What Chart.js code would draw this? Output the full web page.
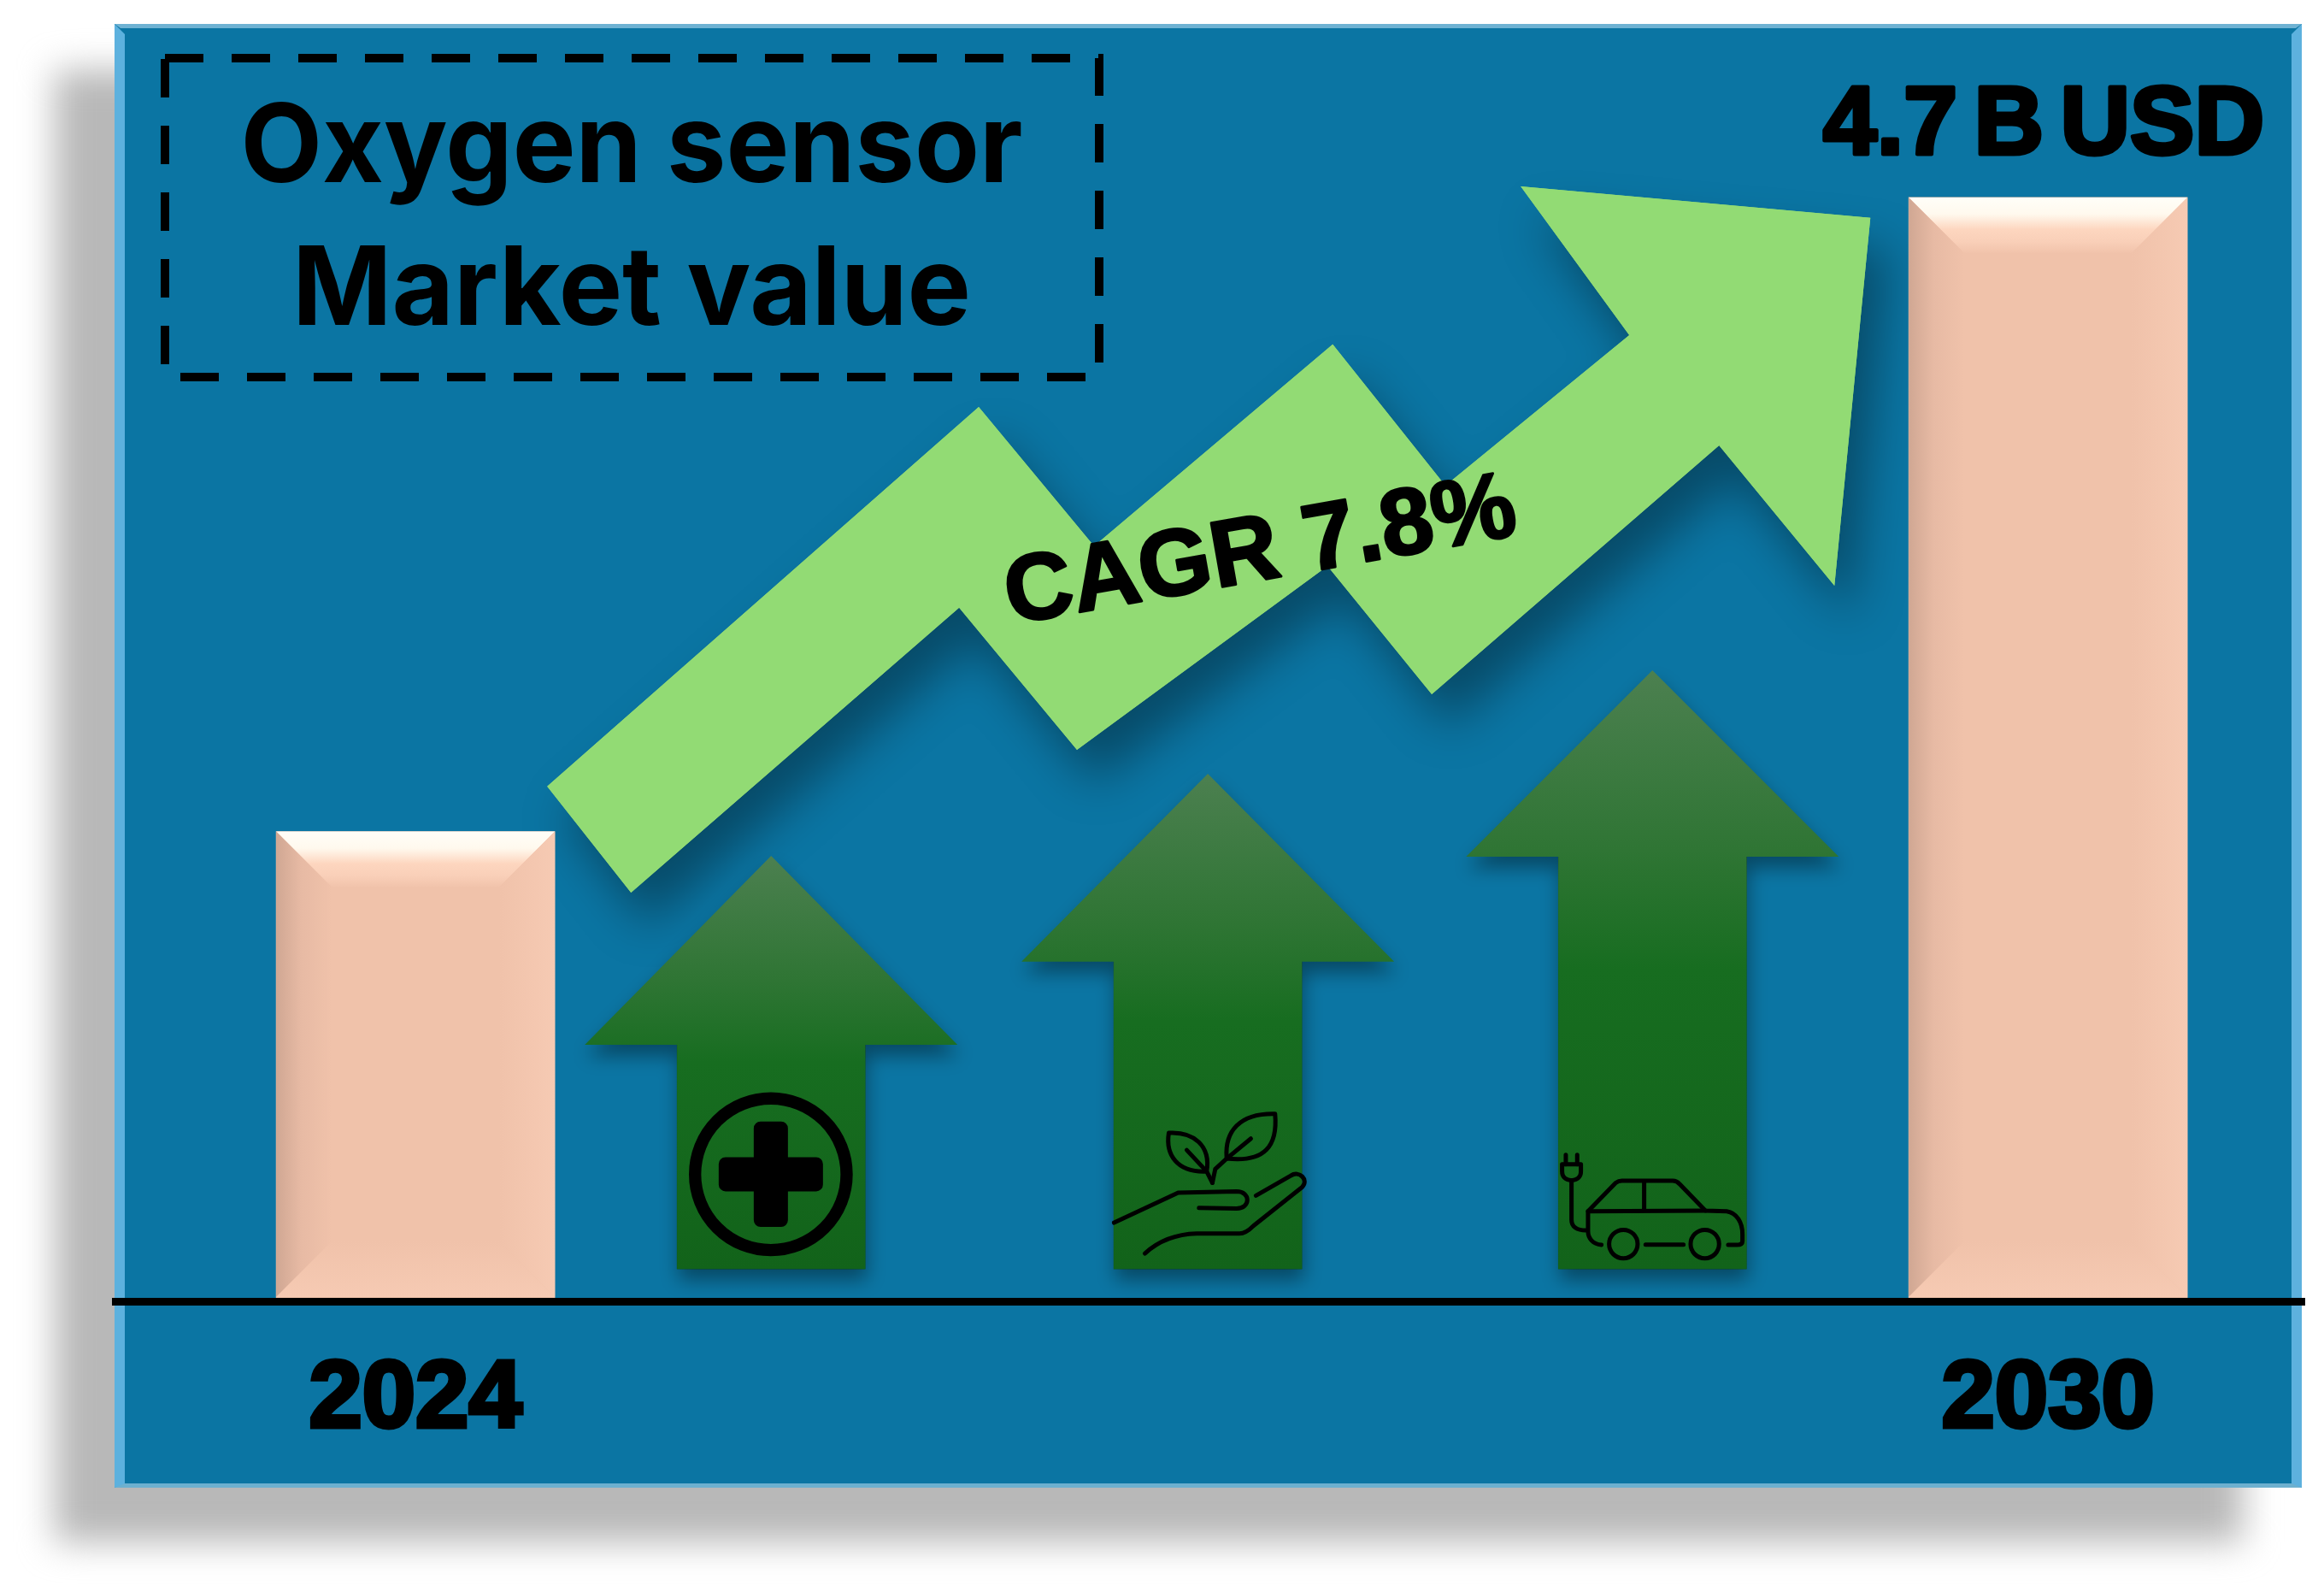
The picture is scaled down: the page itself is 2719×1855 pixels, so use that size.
<!DOCTYPE html>
<html lang="en">

<head>
    <meta charset="UTF-8">
    <title>Oxygen sensor Market value</title>
    <script src="https://cdn.jsdelivr.net/npm/chart.js"></script>
    <style>
        html, body { margin: 0; padding: 0; background: #fff; }
        canvas { display: block; }
    </style>
</head>

<body>
    <canvas id="grafico" width="2719" height="1855"></canvas>

    <script>
        // market bars
        const barYears = [2024, 2030];
        const barValues = [2.0, 4.7];
        const tickYears = [2024, 2030];
        const valueLabel = '4.7 B USD';

        // the three green driver arrows
        const arrowYears = [2025.307, 2026.912, 2028.546];
        const arrowBases = [0.138, 0.138, 0.138];
        const arrowNecks = [1.092, 1.446, 1.893];
        const arrowTips = [1.897, 2.246, 2.687];

        // zigzag CAGR arrow outline
        const trendYears = [2024.484, 2026.070, 2026.494, 2027.371, 2027.785, 2028.461, 2028.062, 2029.347,
            2029.215, 2028.791, 2027.735, 2027.352, 2026.431, 2025.998, 2024.792];
        const trendValues = [2.192, 3.808, 3.215, 4.074, 3.473, 4.114, 4.747, 4.613,
            3.047, 3.644, 2.585, 3.131, 2.348, 2.953, 1.740];
        const trendLabel = 'CAGR 7.8%';

        const titleLines = ['Oxygen sensor', 'Market value'];

        function arrowGradient(chart, i) {
            const y = chart.scales.y;
            const g = chart.ctx.createLinearGradient(0, y.getPixelForValue(arrowTips[i]), 0, y.getPixelForValue(arrowBases[i]));
            g.addColorStop(0, '#4c8050');
            g.addColorStop(0.3, '#2f7534');
            g.addColorStop(0.5, '#176d20');
            g.addColorStop(1, '#12631a');
            return g;
        }

        function setShadow(ctx, color, blur, ox, oy) {
            ctx.shadowColor = color;
            ctx.shadowBlur = blur;
            ctx.shadowOffsetX = ox;
            ctx.shadowOffsetY = oy;
        }

        function poly(ctx, pts) {
            ctx.beginPath();
            pts.forEach((p, i) => i ? ctx.lineTo(p[0], p[1]) : ctx.moveTo(p[0], p[1]));
            ctx.closePath();
        }

        // icons are traced in a 720 box with its origin relative to the arrow's foot
        function iconPlus(ctx) {
            ctx.lineWidth = 43;
            ctx.beginPath();
            ctx.arc(365, 340, 266, 0, Math.PI * 2);
            ctx.stroke();
            ctx.beginPath();
            ctx.roundRect(305, 155, 120, 370, 24);
            ctx.roundRect(182, 280, 366, 120, 24);
            ctx.fill();
        }

        function iconHand(ctx) {
            ctx.lineWidth = 15;
            ctx.stroke(new Path2D('M435 222C428 130 480 65 605 68C615 180 570 240 435 225L395 262L385 310'));
            ctx.stroke(new Path2D('M520 155L435 225'));
            ctx.stroke(new Path2D('M365 270C260 275 220 210 232 135C320 130 380 180 365 270L385 310'));
            ctx.stroke(new Path2D('M295 195L365 270'));
            ctx.stroke(new Path2D('M40 450L265 345L470 340C520 340 520 400 470 400L338 398'));
            ctx.stroke(new Path2D('M148 558C200 510 260 490 330 488L480 488C500 488 515 475 530 460L700 325C725 300 690 265 660 285L538 355'));
        }

        function iconCar(ctx) {
            ctx.lineWidth = 15;
            ctx.stroke(new Path2D('M65 92L65 125M105 92L105 125'));
            ctx.stroke(new Path2D('M52 125L118 125L118 150C118 175 100 180 85 182C70 180 52 175 52 150Z'));
            ctx.stroke(new Path2D('M85 182L85 320C85 345 105 357 135 357'));
            ctx.stroke(new Path2D('M190 408C160 405 143 385 143 360L143 290L240 190Q250 183 262 183L440 183Q455 183 465 195L555 288L630 290C665 295 685 330 685 370L685 395C685 405 675 408 665 408L635 408'));
            ctx.stroke(new Path2D('M143 290L555 288M340 185L340 288M345 407L478 407'));
            ctx.beginPath();
            ctx.arc(267, 405, 50, 0, Math.PI * 2);
            ctx.stroke();
            ctx.beginPath();
            ctx.arc(553, 405, 50, 0, Math.PI * 2);
            ctx.stroke();
        }

        const arrowIcons = [
            { draw: iconPlus, dx: -122, dy: -224 },
            { draw: iconHand, dx: -123, dy: -204 },
            { draw: iconCar, dx: -123, dy: -164 }
        ];

        const decoracao = {
            id: 'decoracao',

            beforeDraw(chart) {
                const ctx = chart.ctx;
                // grey drop shadow and panel
                ctx.save();
                ctx.filter = 'blur(20px)';
                ctx.fillStyle = '#b8b8b8';
                ctx.fillRect(64, 82, 2560, 1722);
                ctx.filter = 'none';
                ctx.fillStyle = '#0b75a3';
                ctx.fillRect(134, 28, 2559, 1712);
                ctx.fillStyle = '#6fb2d3';
                poly(ctx, [[134, 28], [2693, 28], [2686, 33], [141, 33]]);
                ctx.fill();
                ctx.fillStyle = '#6db0cf';
                poly(ctx, [[134, 1740], [2693, 1740], [2686, 1735], [141, 1735]]);
                ctx.fill();
                ctx.fillStyle = '#5db1de';
                poly(ctx, [[134, 28], [146, 40], [146, 1735], [134, 1740]]);
                ctx.fill();
                poly(ctx, [[2693, 28], [2681, 40], [2681, 1735], [2693, 1740]]);
                ctx.fill();
                ctx.restore();
            },

            beforeDatasetsDraw(chart) {
                const ctx = chart.ctx;
                // dashed title box
                ctx.save();
                ctx.strokeStyle = '#000';
                ctx.lineWidth = 10;
                ctx.setLineDash([45, 33]);
                ctx.beginPath();
                ctx.rect(193, 68, 1093, 373);
                ctx.stroke();
                ctx.setLineDash([]);
                ctx.fillStyle = '#000';
                ctx.textAlign = 'center';
                ctx.textBaseline = 'alphabetic';
                ctx.font = '700 128px Inter';
                ctx.fillText(titleLines[0], 739, 213, 915);
                ctx.fillText(titleLines[1], 739, 380, 794);
                ctx.restore();

                // trend arrow shadow, the filler paints the shape over it
                const pts = chart.getDatasetMeta(0).data.map(p => [p.x, p.y]);
                ctx.save();
                setShadow(ctx, 'rgba(0,0,0,0.36)', 55, 20, 38);
                ctx.fillStyle = '#92db74';
                poly(ctx, pts);
                ctx.fill();
                ctx.restore();
            },

            afterDatasetDraw(chart, args) {
                const ctx = chart.ctx;
                const y = chart.scales.y;
                if (args.index === 1) {
                    args.meta.data.forEach((el, i) => {
                        const tip = y.getPixelForValue(arrowTips[i]);
                        const neck = y.getPixelForValue(arrowNecks[i]);
                        const half = 218;
                        const w = el.width / 2;
                        const shape = [[el.x, tip], [el.x + half, neck], [el.x + w, neck], [el.x + w, el.base],
                            [el.x - w, el.base], [el.x - w, neck], [el.x - half, neck]];
                        ctx.save();
                        setShadow(ctx, 'rgba(0,0,0,0.38)', 22, 2, 13);
                        ctx.fillStyle = arrowGradient(chart, i);
                        poly(ctx, shape);
                        ctx.fill();
                        ctx.restore();

                        const icon = arrowIcons[i];
                        ctx.save();
                        ctx.translate(el.x + icon.dx, el.base + icon.dy);
                        ctx.scale(1 / 3, 1 / 3);
                        ctx.strokeStyle = '#000';
                        ctx.fillStyle = '#000';
                        ctx.lineCap = 'round';
                        ctx.lineJoin = 'round';
                        icon.draw(ctx);
                        ctx.restore();
                    });
                }
                if (args.index === 2) {
                    args.meta.data.forEach(el => {
                        const l = el.x - el.width / 2;
                        const r = el.x + el.width / 2;
                        const t = el.y;
                        const b = el.base - 5;
                        const n = 65;
                        ctx.save();
                        let g = ctx.createLinearGradient(0, t, 0, t + n);
                        g.addColorStop(0, '#fffef8');
                        g.addColorStop(0.3, '#fff9ee');
                        g.addColorStop(0.58, '#fdd6bf');
                        g.addColorStop(0.8, '#f9cfb8');
                        g.addColorStop(1, '#f1c3ab');
                        ctx.fillStyle = g;
                        poly(ctx, [[l, t], [r, t], [r - n, t + n], [l + n, t + n]]);
                        ctx.fill();
                        g = ctx.createLinearGradient(l, 0, l + n, 0);
                        g.addColorStop(0, '#d0a793');
                        g.addColorStop(0.45, '#e7baa4');
                        g.addColorStop(1, '#f0c2aa');
                        ctx.fillStyle = g;
                        poly(ctx, [[l, t], [l + n, t + n], [l + n, b - n], [l, b]]);
                        ctx.fill();
                        g = ctx.createLinearGradient(r - n, 0, r, 0);
                        g.addColorStop(0, '#f0c2aa');
                        g.addColorStop(1, '#f6cab3');
                        ctx.fillStyle = g;
                        poly(ctx, [[r, t], [r - n, t + n], [r - n, b - n], [r, b]]);
                        ctx.fill();
                        g = ctx.createLinearGradient(0, b - n, 0, b);
                        g.addColorStop(0, '#f0c2aa');
                        g.addColorStop(1, '#f6cab3');
                        ctx.fillStyle = g;
                        poly(ctx, [[l, b], [r, b], [r - n, b - n], [l + n, b - n]]);
                        ctx.fill();
                        ctx.restore();
                    });
                }
            },

            afterDatasetsDraw(chart) {
                const ctx = chart.ctx;
                const x = chart.scales.x;
                const y = chart.scales.y;
                ctx.save();
                ctx.fillStyle = '#000';
                ctx.strokeStyle = '#000';
                ctx.lineJoin = 'round';
                ctx.font = 'bold 113px "Liberation Sans"';
                ctx.textAlign = 'right';
                ctx.wordSpacing = '-12px';
                ctx.lineWidth = 5;
                ctx.strokeText(valueLabel, 2649, 180);
                ctx.fillText(valueLabel, 2649, 180);
                ctx.wordSpacing = '0px';

                // label rides on the trend arrow
                ctx.translate(x.getPixelForValue(2027.106), y.getPixelForValue(3.183));
                ctx.rotate(-10 * Math.PI / 180);
                ctx.textAlign = 'center';
                ctx.textBaseline = 'middle';
                ctx.font = 'bold 110px "Liberation Sans"';
                ctx.lineWidth = 3;
                ctx.strokeText(trendLabel, 0, 0);
                ctx.fillText(trendLabel, 0, 0);
                ctx.restore();
            }
        };

        new Chart(document.getElementById('grafico').getContext('2d'), {
            data: {
                datasets: [
                    {
                        type: 'line',
                        data: trendYears.map((v, i) => ({ x: v, y: trendValues[i] })),
                        backgroundColor: '#92db74',
                        borderWidth: 0,
                        pointRadius: 0,
                        tension: 0,
                        fill: 'shape',
                        order: 3
                    },
                    {
                        type: 'bar',
                        data: arrowYears.map((v, i) => ({ x: v, y: [arrowBases[i], arrowNecks[i]] })),
                        backgroundColor: c => c.chart.chartArea ? arrowGradient(c.chart, c.dataIndex) : '#176d20',
                        barThickness: 220,
                        grouped: false,
                        order: 2
                    },
                    {
                        type: 'bar',
                        data: barYears.map((v, i) => ({ x: v, y: barValues[i] })),
                        backgroundColor: '#f0c2aa',
                        barThickness: 326,
                        grouped: false,
                        order: 1
                    }
                ]
            },
            options: {
                responsive: false,
                animation: false,
                devicePixelRatio: 1,
                layout: { padding: { left: 135, right: 23, top: 29, bottom: 0 } },
                plugins: { legend: { display: false }, tooltip: { enabled: false } },
                scales: {
                    x: {
                        type: 'linear',
                        position: 'bottom',
                        offset: false,
                        min: 2022.897,
                        max: 2030.942,
                        grid: { display: false },
                        border: { display: true, color: '#000', width: 9, z: 1 },
                        afterBuildTicks: s => { s.ticks = tickYears.map(v => ({ value: v })); },
                        afterFit: s => { s.height = 333; },
                        ticks: {
                            callback: v => String(v),
                            autoSkip: false,
                            maxRotation: 0,
                            padding: 41,
                            color: '#000',
                            font: { family: '"Liberation Sans"', weight: 'bold', size: 112 },
                            textStrokeColor: '#000',
                            textStrokeWidth: 5
                        }
                    },
                    y: {
                        display: false,
                        min: 0,
                        max: 5.435
                    }
                }
            },
            plugins: [decoracao]
        });
    </script>
</body>

</html>
